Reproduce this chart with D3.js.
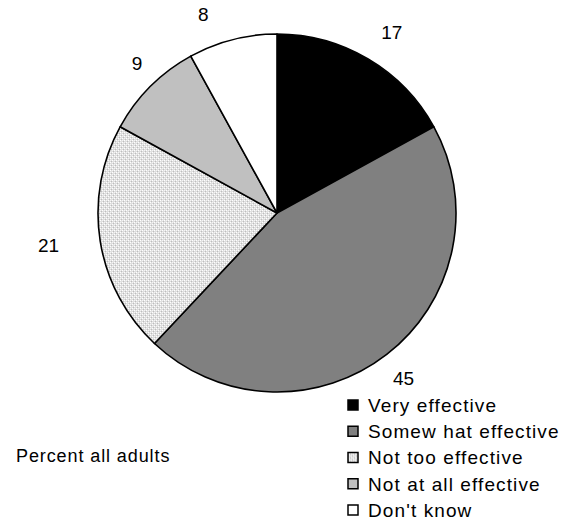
<!DOCTYPE html>
<html>
<head>
<meta charset="utf-8">
<script src="https://cdn.jsdelivr.net/npm/d3@7"></script>
<style>
  html, body { margin: 0; padding: 0; background: #fff; }
  svg { display: block; }
  text { font-family: "Liberation Sans", Arial, sans-serif; fill: #000; }
</style>
</head>
<body>
<svg id="chart" width="569" height="529"></svg>
<script>
// Survey answers, percent of all adults
const categories = ["Very effective", "Somew hat effective", "Not too effective", "Not at all effective", "Don't know"];
const values = [17, 45, 21, 9, 8];
const fills = ["#000000", "#808080", "url(#checker)", "#c0c0c0", "#ffffff"];
const note = "Percent all adults";

const W = 569, H = 529;
const cx = 277, cy = 213, R = 179;
const labelR = 208;
// small nudges so the value labels sit clear of the neighbouring slices
const labelShift = [[9, -2], [-1, 1], [-23, 0], [7, -3], [-22, 3]];

const svg = d3.select("#chart");

// light checkered fill
const defs = svg.append("defs");
const pat = defs.append("pattern")
  .attr("id", "checker").attr("patternUnits", "userSpaceOnUse")
  .attr("width", 4).attr("height", 4);
pat.append("rect").attr("width", 4).attr("height", 4).attr("fill", "#dedede");
[[1, 1], [3, 3]].forEach(([x, y]) =>
  pat.append("rect").attr("x", x).attr("y", y).attr("width", 1).attr("height", 1).attr("fill", "#ffffff"));
[[0, 2], [2, 0]].forEach(([x, y]) =>
  pat.append("rect").attr("x", x).attr("y", y).attr("width", 1).attr("height", 1).attr("fill", "#bdbdbd"));
[[1, 3], [3, 1]].forEach(([x, y]) =>
  pat.append("rect").attr("x", x).attr("y", y).attr("width", 1).attr("height", 1).attr("fill", "#f4f4f4"));

const pie = d3.pie().sort(null).value(d => d)(values);
const arc = d3.arc().innerRadius(0).outerRadius(R);
const labelArc = d3.arc().innerRadius(labelR).outerRadius(labelR);

const g = svg.append("g").attr("transform", `translate(${cx},${cy})`);
g.selectAll("path.slice")
  .data(pie)
  .join("path")
  .attr("class", "slice")
  .attr("d", arc)
  .attr("fill", (d, i) => fills[i])
  .attr("stroke", "#000")
  .attr("stroke-width", 1.6)
  .attr("stroke-linejoin", "round");

g.selectAll("text.val")
  .data(pie)
  .join("text")
  .attr("class", "val")
  .attr("x", (d, i) => labelArc.centroid(d)[0] + labelShift[i][0])
  .attr("y", (d, i) => labelArc.centroid(d)[1] + labelShift[i][1])
  .attr("text-anchor", "middle")
  .attr("dy", "0.36em")
  .attr("font-size", 19)
  .text(d => d.value);

// legend
const legY = d3.scalePoint().domain(categories).range([405, 510]);
const leg = svg.append("g");
const items = leg.selectAll("g").data(categories).join("g")
  .attr("transform", d => `translate(348,${legY(d)})`);
items.append("rect")
  .attr("x", 0).attr("y", -5).attr("width", 10).attr("height", 10)
  .attr("fill", (d, i) => fills[i])
  .attr("stroke", "#000").attr("stroke-width", 1.5);
items.append("text")
  .attr("x", 20).attr("dy", "0.36em")
  .attr("font-size", 19)
  .attr("letter-spacing", 1.1)
  .text(d => d);

svg.append("text")
  .attr("x", 16).attr("y", 456).attr("dy", "0.36em")
  .attr("font-size", 18)
  .attr("letter-spacing", 0.9)
  .text(note);
</script>
</body>
</html>
